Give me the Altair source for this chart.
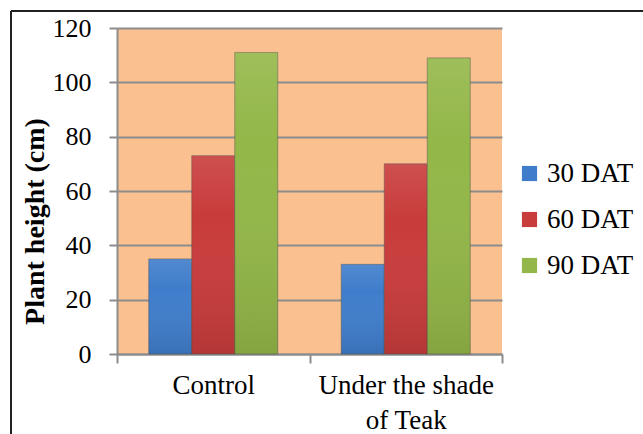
import altair as alt
import pandas as pd

categories = ["Control", "Under the shade of Teak"]
series = ["30 DAT", "60 DAT", "90 DAT"]
values = {
    "30 DAT": [35, 33],
    "60 DAT": [73, 70],
    "90 DAT": [111, 109],
}
y_ticks = [0, 20, 40, 60, 80, 100, 120]
colors = ["#3F7DCB", "#C83C3B", "#93B748"]

rows = []
for s in series:
    for c, v in zip(categories, values[s]):
        rows.append({"Treatment": c, "Series": s, "Height": v})
df = pd.DataFrame(rows)

FONT = "Liberation Serif"

x_enc = alt.X(
    "Treatment:N",
    sort=categories,
    scale=alt.Scale(paddingInner=0, paddingOuter=0),
    axis=alt.Axis(
        title=None,
        labelExpr="datum.label == 'Under the shade of Teak' ? ['Under the shade', 'of Teak'] : datum.label",
        labelFont=FONT,
        labelFontSize=27,
        labelColor="#000000",
        labelAngle=0,
        labelPadding=9,
        labelLineHeight=35,
        labelLimit=0,
        tickBand="extent",
        tickSize=9,
        tickWidth=2,
        tickColor="#8C8C8C",
        domainColor="#8C8C8C",
        domainWidth=2,
        grid=False,
    ),
)
y_enc = alt.Y(
    "Height:Q",
    scale=alt.Scale(domain=[0, 120], nice=False),
    axis=alt.Axis(
        title="Plant height (cm)",
        values=y_ticks,
        titleFont=FONT,
        titleFontSize=28,
        titleFontWeight="bold",
        titleColor="#000000",
        titleX=-82,
        titleY=193,
        titleAngle=270,
        titleAlign="center",
        titleBaseline="middle",
        labelFont=FONT,
        labelFontSize=26,
        labelColor="#000000",
        labelPadding=18,
        tickSize=8,
        tickWidth=2,
        tickColor="#8C8C8C",
        domainColor="#8C8C8C",
        domainWidth=2,
        grid=True,
        gridColor="#8C8C8C",
        gridWidth=2,
    ),
)

xoff = alt.XOffset("Series:N", sort=series, scale=alt.Scale(paddingInner=0, paddingOuter=0.738))

bars = alt.Chart(df).mark_bar(strokeWidth=1, stroke="#4a4a4a", strokeOpacity=0.45).encode(
    x=x_enc,
    xOffset=xoff,
    y=y_enc,
    color=alt.Color(
        "Series:N",
        sort=series,
        scale=alt.Scale(domain=series, range=colors),
        legend=alt.Legend(
            title=None,
            orient="none",
            legendX=399,
            legendY=132,
            symbolType="square",
            symbolSize=230,
            symbolStrokeWidth=0,
            labelFont=FONT,
            labelFontSize=27,
            labelColor="#000000",
            labelOffset=4,
            rowPadding=18,
            labelLimit=0,
        ),
    ),
)

shade = alt.Chart(df).mark_bar(
    fill=alt.Gradient(
        gradient="linear",
        stops=[
            alt.GradientStop(color="rgba(255,255,255,0.10)", offset=0),
            alt.GradientStop(color="rgba(255,255,255,0.0)", offset=0.3),
            alt.GradientStop(color="rgba(0,0,0,0.10)", offset=1),
        ],
        x1=0, x2=0, y1=0, y2=1,
    )
).encode(
    x=alt.X("Treatment:N", sort=categories),
    xOffset=xoff,
    y=alt.Y("Height:Q"),
)

frame_left = alt.Chart(df).mark_rule(color="#222222", strokeWidth=1.5).encode(
    x=alt.value(-106), y=alt.value(-17), y2=alt.value(420)
)
frame_top = alt.Chart(df).mark_rule(color="#222222", strokeWidth=1.5).encode(
    x=alt.value(-106), x2=alt.value(540), y=alt.value(-17)
)

chart = alt.layer(bars, shade, frame_left, frame_top).properties(
    width=385,
    height=326,
    padding={"left": 117, "top": 28, "right": 141, "bottom": 80},
    autosize=alt.AutoSizeParams(type="none"),
    background="#FFFFFF",
).configure_view(
    fill="#FAC090",
    stroke=None,
)

chart.save("out.html", embed_options={"renderer": "svg", "actions": False})
